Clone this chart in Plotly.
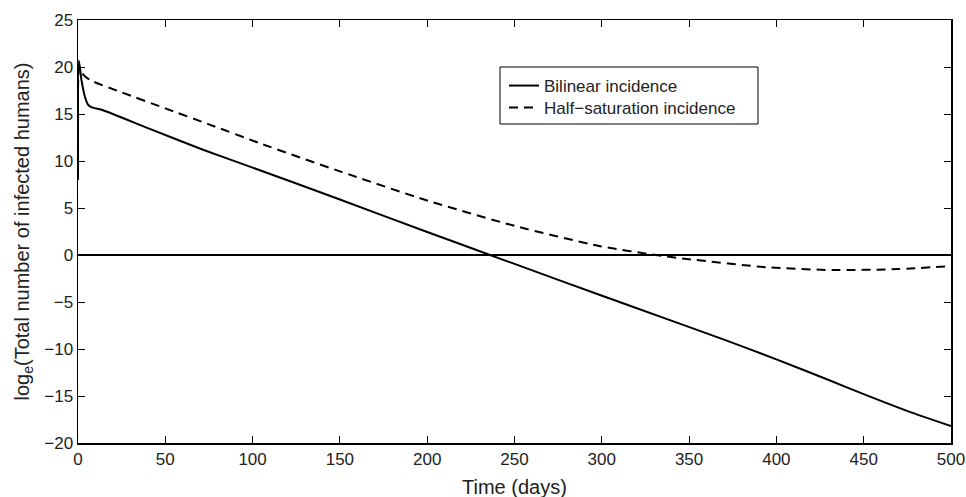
import plotly.graph_objects as go

# Bilinear incidence (solid)
t_bilinear = [0, 0.5, 2, 4, 5.7, 8, 14.3, 40, 71.6, 100, 150, 200, 236, 250, 299, 337, 370, 400, 430, 450, 478, 500]
y_bilinear = [8, 20.7, 18.6, 16.8, 16.0, 15.7, 15.4, 13.5, 11.2, 9.3, 5.9, 2.45, 0, -0.95, -4.26, -6.8, -9.0, -11.1, -13.3, -14.8, -16.8, -18.2]

# Half-saturation incidence (dashed)
t_half = [0, 0.8, 3, 7, 25, 50, 75, 104, 150, 200, 250, 299, 331, 350, 394, 432, 470, 500]
y_half = [8, 20.0, 19.2, 18.6, 17.3, 15.6, 13.9, 11.9, 8.9, 5.8, 3.1, 0.94, 0, -0.45, -1.3, -1.6, -1.5, -1.17]

# Zero reference line
t_zero = [0, 500]
y_zero = [0, 0]

x_ticks = [0, 50, 100, 150, 200, 250, 300, 350, 400, 450, 500]
y_ticks = [-20, -15, -10, -5, 0, 5, 10, 15, 20, 25]
y_ticktext = [("\u2212" + str(abs(v))) if v < 0 else str(v) for v in y_ticks]

x_title = "Time (days)"
y_title = "log<sub>e</sub>(Total number of infected humans)"

FONT = "Liberation Sans, Arial, Helvetica, sans-serif"
TXT = "#222"

fig = go.Figure()
fig.add_trace(go.Scatter(x=t_bilinear, y=y_bilinear, mode="lines", name="Bilinear incidence",
                         legend="legend",
                         line=dict(color="black", width=2, shape="spline", smoothing=0.6)))
fig.add_trace(go.Scatter(x=t_half, y=y_half, mode="lines", name="Half\u2212saturation incidence",
                         legend="legend2",
                         line=dict(color="black", width=2, dash="9px,6px", shape="spline", smoothing=0.6)))
fig.add_trace(go.Scatter(x=t_zero, y=y_zero, mode="lines", showlegend=False,
                         line=dict(color="black", width=2)))

axis_common = dict(showgrid=False, zeroline=False, showline=True, linecolor="black", linewidth=1.5,
                   mirror="ticks", ticks="inside", ticklen=7, tickcolor="black", tickwidth=1,
                   automargin=False,
                   tickfont=dict(family=FONT, size=17, color=TXT))

# plot-area pixel geometry -> paper fractions
PL, PR, PT, PB = 78, 951, 20, 443
def fx(px):
    return (px - PL) / (PR - PL)
def fy(py):
    return (PB - py) / (PB - PT)

fig.add_shape(type="rect", xref="paper", yref="paper",
              x0=fx(500), x1=fx(758), y0=fy(124), y1=fy(67),
              line=dict(color="black", width=1), fillcolor="white", layer="above")

fig.add_annotation(text=x_title, xref="paper", yref="paper", x=0.5, y=fy(487),
                   xanchor="center", yanchor="middle", showarrow=False,
                   font=dict(family=FONT, size=20, color=TXT))
fig.add_annotation(text=y_title, xref="paper", yref="paper", x=fx(23), y=0.5,
                   xanchor="center", yanchor="middle", showarrow=False, textangle=-90,
                   font=dict(family=FONT, size=20, color=TXT))

leg_common = dict(xanchor="left", yanchor="top", bgcolor="rgba(0,0,0,0)", borderwidth=0,
                  font=dict(family=FONT, size=17, color=TXT), itemwidth=30)

fig.update_layout(
    width=966, height=497,
    margin=dict(l=PL, r=966 - PR, t=PT, b=497 - PB, autoexpand=False),
    paper_bgcolor="white", plot_bgcolor="white",
    font=dict(family=FONT, color=TXT),
    xaxis=dict(range=[0, 500], tickvals=x_ticks, **axis_common),
    yaxis=dict(range=[-20, 25], tickvals=y_ticks, ticktext=y_ticktext, **axis_common),
    legend=dict(x=fx(504), y=fy(68), **leg_common),
    legend2=dict(x=fx(504), y=fy(90), **leg_common),
    showlegend=True,
    hovermode=False,
)

fig.write_html("out.html", config={"displayModeBar": False, "staticPlot": True},
               post_script="document.body.style.margin='0';document.body.style.overflow='hidden';")
